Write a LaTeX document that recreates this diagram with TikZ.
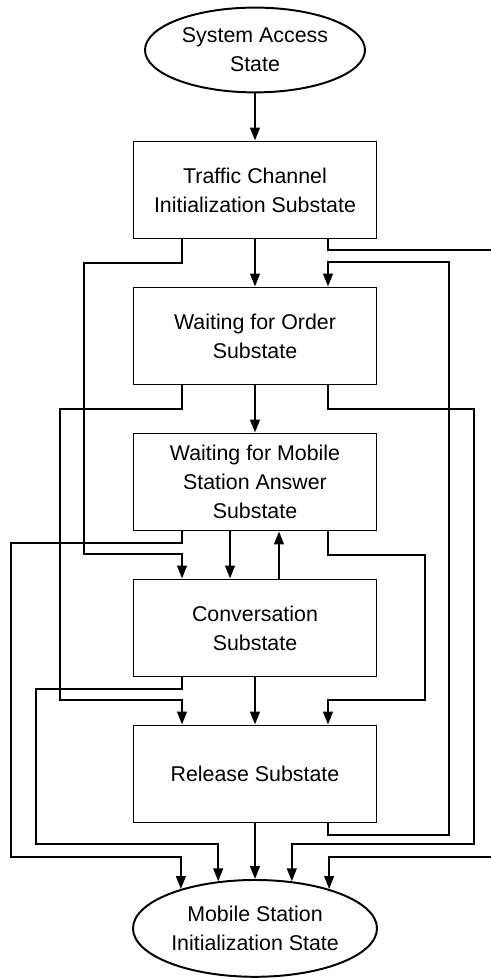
\documentclass[tikz,border=0pt]{standalone}
\usepackage{fontspec}
\setmainfont{Liberation Sans}
\usetikzlibrary{shapes.geometric,arrows.meta}
\begin{document}
\begin{tikzpicture}[
        line width=1.4pt,
        state/.style={draw, ellipse, inner sep=0pt, align=center, font=\fontsize{15.2pt}{20.6pt}\selectfont},
        substate/.style={draw, rectangle, minimum width=6.075cm, minimum height=2.425cm, align=center, font=\fontsize{15.2pt}{20.6pt}\selectfont},
        arr/.style={-{Triangle[length=3.2mm,width=2.4mm]}}
    ]
        \useasboundingbox (0,0) rectangle (12.275,24.45);

        % States
        \node[state, minimum width=5.5cm, minimum height=2.12cm] (sas) at (6.375,23.2) {System Access\\State};
        \node[state, minimum width=6.1cm, minimum height=2.42cm] (msi) at (6.375,1.24) {Mobile Station\\Initialization State};

        % Substates
        \node[substate] (tci) at (6.375,19.7) {Traffic Channel\\Initialization Substate};
        \node[substate] (wfo) at (6.375,16.05) {Waiting for Order\\Substate};
        \node[substate] (wfa) at (6.375,12.4) {Waiting for Mobile\\Station Answer\\Substate};
        \node[substate] (conv) at (6.375,8.75) {Conversation\\Substate};
        \node[substate] (rel) at (6.375,5.1) {Release Substate};

        % Ends at the right border
        \coordinate (outA) at (12.3,18.2);
        \coordinate (outB) at (12.3,3.025);

        % Straight transitions
        \draw[arr] (sas) -- (tci);
        \draw[arr] (tci) -- (wfo);
        \draw[arr] (wfo) -- (wfa);
        \draw[arr] ([xshift=-0.625cm]wfa.south) -- ([xshift=-0.625cm]conv.north);
        \draw[arr] ([xshift=0.6cm]conv.north) -- ([xshift=0.6cm]wfa.south);
        \draw[arr] (conv) -- (rel);
        \draw[arr] (rel) -- (msi);

        % Routed transitions
        \draw[arr] ([xshift=-1.825cm]tci.south) -- ++(0,-0.6) -| (2.1,10.6) -| ([xshift=-1.825cm]conv.north);
        \draw ([xshift=1.825cm]tci.south) |- (outA);
        \draw[arr] ([xshift=1.825cm]rel.south) -- ++(0,-0.3) -| (11.225,17.9) -| ([xshift=1.825cm]wfo.north);
        \draw[arr] ([xshift=-1.825cm]wfo.south) -- ++(0,-0.6) -| (1.5,6.95) -| ([xshift=-1.825cm]rel.north);
        \draw[arr] ([xshift=1.825cm]wfo.south) -- ++(0,-0.6) -| (11.85,3.35) -| (msi.52);
        \draw[arr] ([xshift=-1.825cm]wfa.south) -- ++(0,-0.3) -| (0.275,3.025) -| (msi.152);
        \draw[arr] ([xshift=1.825cm]wfa.south) -- ++(0,-0.6) -| (10.625,6.95) -| ([xshift=1.825cm]rel.north);
        \draw[arr] ([xshift=-1.825cm]conv.south) -- ++(0,-0.3) -| (0.9,3.35) -| (msi.128);
        \draw[arr] (outB) -| (msi.28);
    \end{tikzpicture}
\end{document}
